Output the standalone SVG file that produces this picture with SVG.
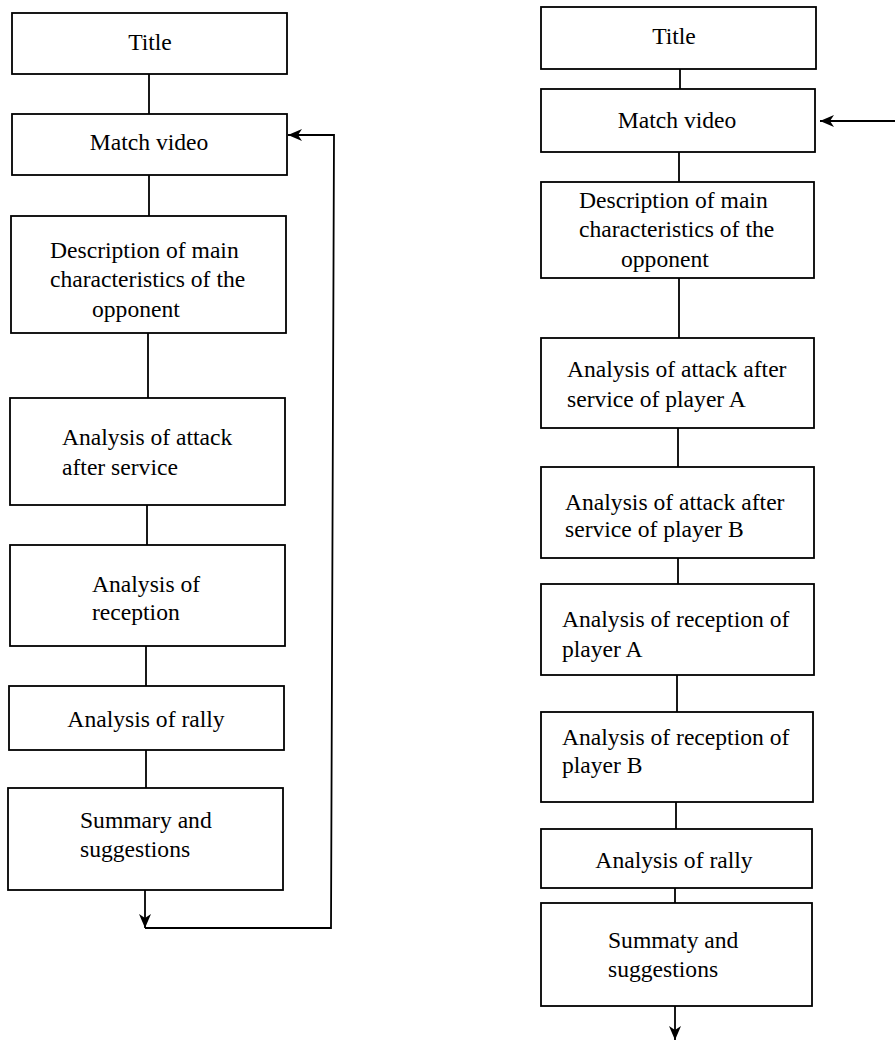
<svg xmlns="http://www.w3.org/2000/svg" width="895" height="1041" viewBox="0 0 895 1041">
<style>
.box{fill:#fff;stroke:#000;stroke-width:1.8}
.t{font-family:"Liberation Serif","Times New Roman",serif;font-size:23.6px;fill:#000}
.c{text-anchor:middle}
.ln{fill:none;stroke:#000;stroke-width:1.8}
</style>
<defs>
<marker id="ah" markerUnits="userSpaceOnUse" viewBox="0 0 14 12" refX="14" refY="6" markerWidth="14" markerHeight="12" orient="auto">
<path d="M0,0 L14,6 L0,12 L4,6 Z" fill="#000"/>
</marker>
</defs>
<rect width="895" height="1041" fill="#fff"/>
<g id="connectors">
<path class="ln" d="M149,74 V114"/>
<path class="ln" d="M149,175 V216"/>
<path class="ln" d="M148,333 V398"/>
<path class="ln" d="M147,505 V545"/>
<path class="ln" d="M146,646 V686"/>
<path class="ln" d="M146,750 V788"/>
<path class="ln" d="M145,890 V928" marker-end="url(#ah)"/>
<path class="ln" d="M145,928 H331 L334,135 H288" marker-end="url(#ah)"/>
<path class="ln" d="M680,69 V89"/>
<path class="ln" d="M679,152 V182"/>
<path class="ln" d="M679,278 V338"/>
<path class="ln" d="M678,428 V467"/>
<path class="ln" d="M678,558 V584"/>
<path class="ln" d="M677,675 V712"/>
<path class="ln" d="M676,802 V829"/>
<path class="ln" d="M675,888 V903"/>
<path class="ln" d="M675,1006 V1040" marker-end="url(#ah)"/>
<path class="ln" d="M895,121 H820" marker-end="url(#ah)"/>
</g>
<g id="l-title"><rect class="box" x="12" y="13" width="275" height="61"/><text class="t c" x="150" y="50">Title</text></g>
<g id="l-video"><rect class="box" x="12" y="114" width="275" height="61"/><text class="t c" x="149" y="150">Match video</text></g>
<g id="l-desc"><rect class="box" x="11" y="216" width="275" height="117"/>
<text class="t" x="50" y="258">Description of main</text>
<text class="t" x="50" y="287">characteristics of the</text>
<text class="t" x="92" y="317">opponent</text></g>
<g id="l-attack"><rect class="box" x="10" y="398" width="275" height="107"/>
<text class="t" x="62" y="445">Analysis of attack</text>
<text class="t" x="62" y="475">after service</text></g>
<g id="l-reception"><rect class="box" x="10" y="545" width="275" height="101"/>
<text class="t" x="92" y="592">Analysis of</text>
<text class="t" x="92" y="620">reception</text></g>
<g id="l-rally"><rect class="box" x="9" y="686" width="275" height="64"/><text class="t c" x="146" y="727">Analysis of rally</text></g>
<g id="l-summary"><rect class="box" x="8" y="788" width="275" height="102"/>
<text class="t" x="80" y="828">Summary and</text>
<text class="t" x="80" y="857">suggestions</text></g>
<g id="r-title"><rect class="box" x="541" y="7" width="275" height="62"/><text class="t c" x="674" y="44">Title</text></g>
<g id="r-video"><rect class="box" x="541" y="89" width="274" height="63"/><text class="t c" x="677" y="128">Match video</text></g>
<g id="r-desc"><rect class="box" x="541" y="182" width="273" height="96"/>
<text class="t" x="579" y="208">Description of main</text>
<text class="t" x="579" y="237">characteristics of the</text>
<text class="t" x="621" y="267">opponent</text></g>
<g id="r-attack-a"><rect class="box" x="541" y="338" width="273" height="90"/>
<text class="t" x="567" y="377">Analysis of attack after</text>
<text class="t" x="567" y="407">service of player A</text></g>
<g id="r-attack-b"><rect class="box" x="541" y="467" width="273" height="91"/>
<text class="t" x="565" y="510">Analysis of attack after</text>
<text class="t" x="565" y="537">service of player B</text></g>
<g id="r-reception-a"><rect class="box" x="541" y="584" width="273" height="91"/>
<text class="t" x="562" y="627">Analysis of reception of</text>
<text class="t" x="562" y="657">player A</text></g>
<g id="r-reception-b"><rect class="box" x="541" y="712" width="272" height="90"/>
<text class="t" x="562" y="745">Analysis of reception of</text>
<text class="t" x="562" y="773">player B</text></g>
<g id="r-rally"><rect class="box" x="541" y="829" width="271" height="59"/><text class="t c" x="674" y="868">Analysis of rally</text></g>
<g id="r-summary"><rect class="box" x="541" y="903" width="271" height="103"/>
<text class="t" x="608" y="948">Summaty and</text>
<text class="t" x="608" y="977">suggestions</text></g>
</svg>
